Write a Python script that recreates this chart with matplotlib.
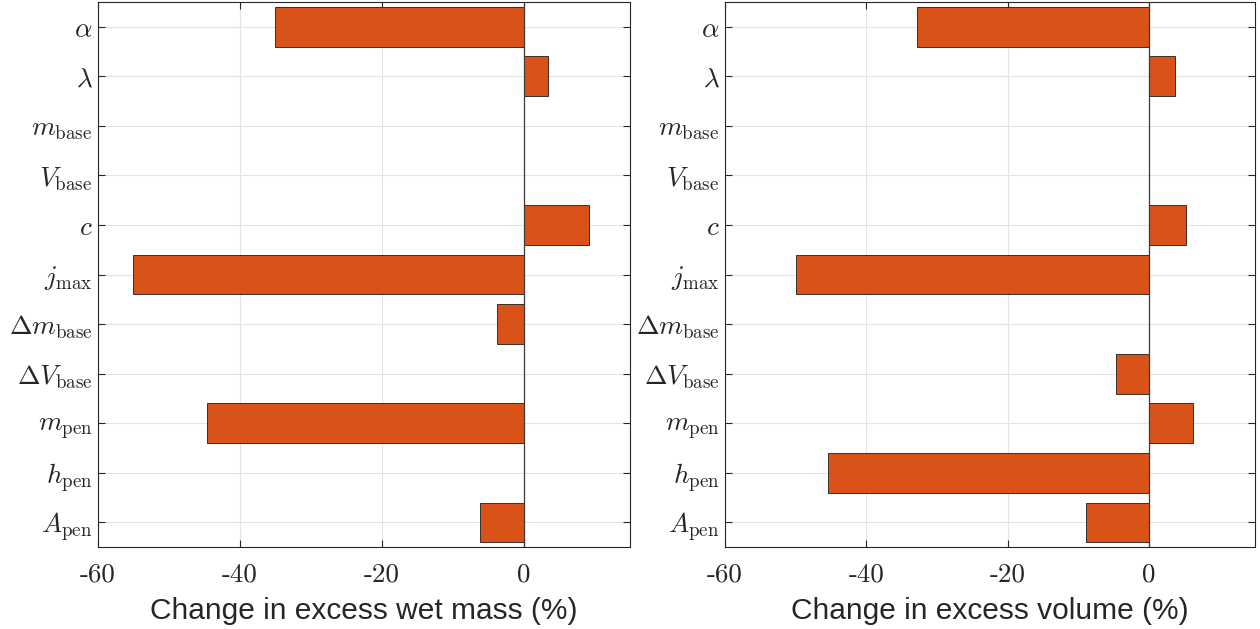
import matplotlib

matplotlib.use("Agg")
import matplotlib.pyplot as plt

# ==================== Data ====================
PARAM_LABELS = [
    r"$\alpha$",
    r"$\lambda$",
    r"$m_{\mathrm{base}}$",
    r"$V_{\mathrm{base}}$",
    r"$c$",
    r"$j_{\mathrm{max}}$",
    r"$\Delta m_{\mathrm{base}}$",
    r"$\Delta V_{\mathrm{base}}$",
    r"$m_{\mathrm{pen}}$",
    r"$h_{\mathrm{pen}}$",
    r"$A_{\mathrm{pen}}$",
]
WET_MASS_CHANGE = [-35.1, 3.5, 0.0, 0.0, 9.2, -55.0, -3.8, 0.0, -44.6, 0.0, -6.2]
VOLUME_CHANGE = [-32.8, 3.7, 0.0, 0.0, 5.2, -49.9, 0.0, -4.7, 6.2, -45.4, -8.9]
X_TICKS = [-60, -40, -20, 0]
X_TICK_LABELS = ["-60", "-40", "-20", "0"]
# ===============================================

BAR_COLOR = "#D95319"
AXIS_COLOR = "#262626"

plt.rcParams["mathtext.fontset"] = "cm"


def draw_panel(ax, values, xlabel):
    ypos = list(range(1, len(values) + 1))
    ax.barh(ypos, values, height=0.8, color=BAR_COLOR, edgecolor="#1a1a1a",
            linewidth=0.6, zorder=3)
    ax.axvline(0, color="#3a3a3a", linewidth=0.9, zorder=4)

    ax.set_xlim(-60, 15)
    ax.set_ylim(11.5, 0.5)
    ax.set_yticks(ypos)
    ax.set_yticklabels(PARAM_LABELS, fontsize=19.5, color=AXIS_COLOR)
    ax.set_xticks(X_TICKS)
    ax.set_xticklabels(X_TICK_LABELS, fontsize=19.5, color=AXIS_COLOR,
                       fontfamily="cmr10")
    ax.set_xlabel(xlabel, fontsize=21.5, color=AXIS_COLOR,
                  fontfamily="Liberation Sans", labelpad=8)

    ax.grid(True, color="#e3e3e3", linewidth=0.8, zorder=0)
    ax.set_axisbelow(True)
    ax.tick_params(direction="in", length=5, width=0.8, color=AXIS_COLOR,
                   top=True, right=True)
    ax.tick_params(axis="x", pad=11)
    ax.tick_params(axis="y", pad=4)
    for spine in ax.spines.values():
        spine.set_color(AXIS_COLOR)
        spine.set_linewidth(0.8)


def main():
    fig = plt.figure(figsize=(12.6, 6.29), dpi=100)
    ax_mass = fig.add_axes([0.0778, 0.130, 0.4222, 0.867])
    ax_vol = fig.add_axes([0.5754, 0.130, 0.4206, 0.867])

    draw_panel(ax_mass, WET_MASS_CHANGE, "Change in excess wet mass (%)")
    draw_panel(ax_vol, VOLUME_CHANGE, "Change in excess volume (%)")

    fig.savefig("out.png", dpi=100)
    plt.close(fig)


if __name__ == "__main__":
    main()
